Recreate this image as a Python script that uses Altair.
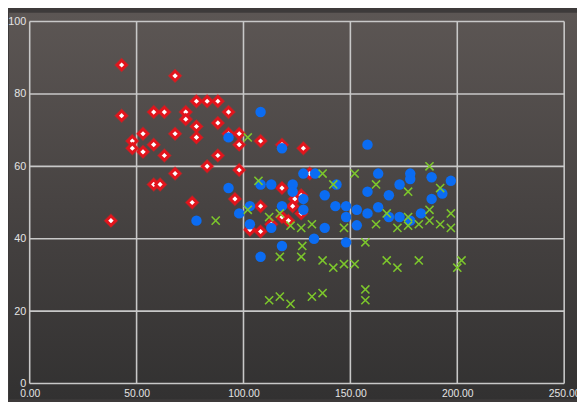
import altair as alt
import pandas as pd

# ---- data ----
red_x = [43, 68, 78, 83, 88, 43, 58, 63, 73, 73, 93, 88, 78, 48, 48, 53, 53, 58, 63, 68,
         78, 88, 83, 93, 98, 98, 108, 118, 98, 68, 58, 61, 118, 38, 76, 128, 131, 96, 108,
         124, 127, 123, 127, 118, 121, 113, 103, 108]
red_y = [88, 85, 78, 78, 78, 74, 75, 75, 75, 73, 75, 72, 71, 67, 65, 69, 64, 66, 63, 69,
         68, 63, 60, 69, 69, 66, 67, 66, 59, 58, 55, 55, 54, 45, 50, 65, 58, 51, 49,
         51, 52, 49, 47, 46, 45, 44, 42.5, 42]

blue_x = [93, 108, 118, 158, 93, 108, 113, 123, 123, 128, 133.5, 143.5, 78, 98, 103, 118,
          128, 128, 138, 143, 148, 148, 103, 113, 138, 133, 148, 118, 108, 163, 178, 178,
          188, 197, 173, 158, 193, 168, 188, 153, 163, 158, 168, 173, 178, 183, 153]
blue_y = [68, 75, 65, 66, 54, 55, 55, 55, 53, 58, 58, 55, 45, 47, 49, 49,
          51, 48, 52, 49, 49, 46, 44, 43, 43, 40, 39, 38, 35, 58, 58, 56.5,
          57, 56, 55, 53, 52.5, 52, 51, 48, 48.7, 47, 46, 46, 45, 47, 43.7]

green_x = [102, 107, 137, 142, 87, 102, 112, 117, 122, 127, 132, 147, 127.5, 117, 127, 137,
           142, 147, 152, 167, 172, 182, 202, 200, 112, 117, 122, 132, 137, 157, 157, 187,
           152, 162, 177, 192, 167, 177, 187, 197, 162, 172, 177, 182, 187, 192, 197, 157]
green_y = [68, 56, 58, 55, 45, 48, 46, 47, 43.6, 43, 44, 43, 38, 35, 35, 34,
           32, 33, 33, 34, 32, 34, 34, 32, 23, 24, 22, 24, 25, 26, 23, 60,
           58, 55, 53, 54, 47, 46, 48, 47, 44, 43, 43.6, 44, 45, 44, 43, 39]

x_ticks = [0, 50, 100, 150, 200, 250]
y_ticks = [0, 20, 40, 60, 80, 100]

W, H = 542, 367
PAD = {"left": 22, "top": 11, "right": 13, "bottom": 16}

red = pd.DataFrame({"x": red_x, "y": red_y})
blue = pd.DataFrame({"x": blue_x, "y": blue_y})
green = pd.DataFrame({"x": green_x, "y": green_y})

xs = alt.Scale(domain=[0, 250], nice=False, zero=False)
ys = alt.Scale(domain=[0, 100], nice=False, zero=False)

LABEL_FONT = "Liberation Sans"
x_axis = alt.Axis(values=x_ticks, format=".2f", grid=False, domain=False, ticks=False,
                  title=None, labelColor="#e4e4e4", labelFont=LABEL_FONT, labelFontSize=10.5,
                  labelPadding=5, labelFlush=False, labelOverlap=False, zindex=2)
y_axis = alt.Axis(values=y_ticks, format="d", grid=False, domain=False, ticks=False,
                  title=None, labelColor="#e4e4e4", labelFont=LABEL_FONT, labelFontSize=11,
                  labelPadding=4, labelFlush=False, labelOverlap=False, zindex=2)

grad = alt.Gradient(
    gradient="linear",
    stops=[alt.GradientStop(color="#5c5654", offset=0),
           alt.GradientStop(color="#474342", offset=0.5),
           alt.GradientStop(color="#323131", offset=1)],
    x1=0, x2=0, y1=0, y2=1,
)

bg = alt.Chart(pd.DataFrame({"a": [0]})).mark_rect(fill=grad).encode(
    x=alt.value(-PAD["left"] + 1), x2=alt.value(W + PAD["right"]),
    y=alt.value(-PAD["top"] + 2), y2=alt.value(H + PAD["bottom"]),
)

vgrid = alt.Chart(pd.DataFrame({"v": x_ticks})).mark_rule(
    color="#c8c8c8", strokeWidth=1.6
).encode(x=alt.X("v:Q", scale=xs, axis=x_axis))

hgrid = alt.Chart(pd.DataFrame({"v": y_ticks})).mark_rule(
    color="#c8c8c8", strokeWidth=1.6
).encode(y=alt.Y("v:Q", scale=ys, axis=y_axis))


def pos(df):
    return dict(x=alt.X("x:Q", scale=xs, axis=x_axis), y=alt.Y("y:Q", scale=ys, axis=y_axis))


red_glow = alt.Chart(red).mark_point(
    shape="diamond", filled=True, fill="#ff1a1a", opacity=0.35, size=230, strokeWidth=0
).encode(**pos(red))
red_pts = alt.Chart(red).mark_point(
    shape="diamond", filled=True, fill="#ffffff", stroke="#e3141c", strokeWidth=2.8,
    size=85, opacity=1
).encode(**pos(red))

blue_pts = alt.Chart(blue).mark_point(
    shape="circle", filled=True, fill="#0b6cf2", opacity=1, size=112, strokeWidth=0
).encode(**pos(blue))

green_pts = alt.Chart(green).mark_point(
    shape="M-1,-1L1,1M-1,1L1,-1", filled=False, stroke="#7cc62c", strokeWidth=1.6,
    size=68, opacity=1
).encode(**pos(green))

chart = alt.layer(bg, vgrid, hgrid, red_glow, red_pts, blue_pts, green_pts).properties(
    width=W, height=H,
    autosize=alt.AutoSizeParams(type="none"),
    padding=PAD,
    background="#3d3a3a",
).configure_view(stroke=None)

chart.save("out.html", embed_options={"renderer": "svg", "actions": False})
